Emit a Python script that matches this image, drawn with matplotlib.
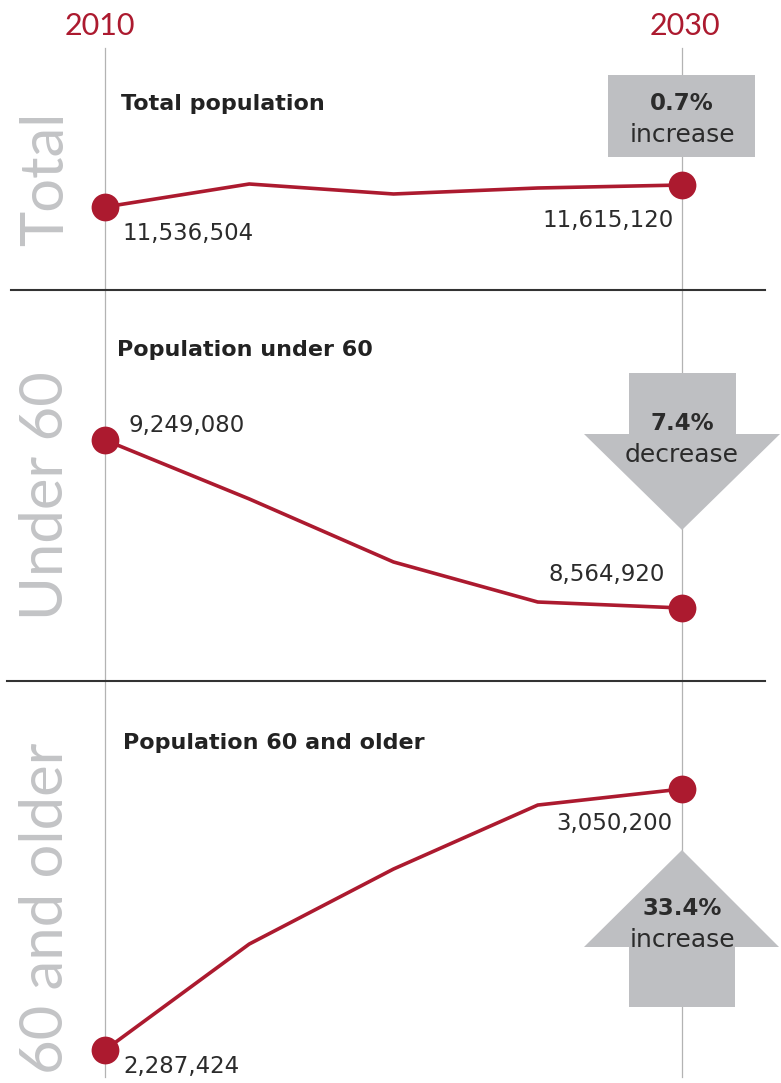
import matplotlib
matplotlib.use("Agg")
import matplotlib.pyplot as plt
from matplotlib.patches import Polygon, Rectangle

plt.rcParams['font.family'] = ['Lato', 'DejaVu Sans']
WIDE = ['DejaVu Sans']

# ---------------- data ----------------
years = [2010, 2015, 2020, 2025, 2030]
total_pop = [11536504, 11618700, 11583000, 11604400, 11615120]
under60_pop = [9249080, 9009000, 8752300, 8589300, 8564920]
older60_pop = [2287424, 2597100, 2816300, 3003300, 3050200]

panel_names = ["Total", "Under 60", "60 and older"]
panel_titles = ["Total population", "Population under 60", "Population 60 and older"]
change_pct = ["0.7%", "7.4%", "33.4%"]
change_words = ["increase", "decrease", "increase"]
year_labels = ["2010", "2030"]

# ---------------- style ----------------
RED = '#AC1A2F'
GRAYBOX = '#BEBFC2'
BIGGRAY = '#C3C4C6'
VLINE = '#B3B3B3'
DARK = '#2B2B2B'
W, H = 781, 1083

fig = plt.figure(figsize=(W / 100, H / 100), dpi=100)
bg = fig.add_axes([0, 0, 1, 1])
bg.set_xlim(0, W)
bg.set_ylim(H, 0)
bg.axis('off')

X0, X1 = 105, 682  # pixel x of 2010 and 2030

# vertical guide lines
for x in (X0, X1):
    bg.plot([x, x], [48, 1077], color=VLINE, lw=0.9, zorder=1)

# separators
bg.plot([11, 765], [290, 290], color='#333333', lw=1.5, zorder=1)
bg.plot([7, 765], [681, 681], color='#333333', lw=1.5, zorder=1)

# year labels
bg.text(100, 35, year_labels[0], color=RED, fontsize=22, ha='center', va='baseline')
bg.text(685, 35, year_labels[1], color=RED, fontsize=22, ha='center', va='baseline')

# big rotated panel names
for name, cy in zip(panel_names, [179, 496, 908]):
    bg.text(63, cy, name, rotation=90, rotation_mode='anchor', ha='center', va='baseline',
            color=BIGGRAY, fontsize=43, fontweight='normal')

# panel titles
for t, (x, y) in zip(panel_titles, [(121, 110), (117, 356), (123, 749)]):
    bg.text(x, y, t, fontsize=16, fontweight='bold', color='#222222', ha='left',
            va='baseline', family=WIDE)

# change indicators
bg.add_patch(Rectangle((608, 75), 147, 82, facecolor=GRAYBOX, edgecolor='none', zorder=2))
bg.add_patch(Polygon([(629, 373), (736, 373), (736, 434), (780, 434), (682, 530),
                      (584, 434), (629, 434)], closed=True, facecolor=GRAYBOX,
                     edgecolor='none', zorder=2))
bg.add_patch(Polygon([(682, 850), (779, 947), (735, 947), (735, 1007), (629, 1007),
                      (629, 947), (584, 947)], closed=True, facecolor=GRAYBOX,
                     edgecolor='none', zorder=2))
for pct, word, (yp, yw) in zip(change_pct, change_words, [(110, 142), (430, 462), (915, 947)]):
    bg.text(682, yp, pct, fontsize=16.5, fontweight='bold', color=DARK, ha='center',
            va='baseline', zorder=3, family=WIDE)
    bg.text(682, yw, word, fontsize=18, color=DARK, ha='center', va='baseline', zorder=3,
            family=WIDE)


# ---------------- data panels ----------------
def panel_axes(top_px, bot_px, v_first, y_first, v_last, y_last):
    ax = fig.add_axes([X0 / W, 1 - bot_px / H, (X1 - X0) / W, (bot_px - top_px) / H])
    per_px = (v_last - v_first) / (y_first - y_last)

    def v(y):
        return v_first + (y_first - y) * per_px

    ax.set_xlim(years[0], years[-1])
    ax.set_ylim(v(bot_px), v(top_px))
    ax.axis('off')
    ax.patch.set_alpha(0)
    return ax


series = [total_pop, under60_pop, older60_pop]
boxes = [(60, 285, 207, 185), (295, 675, 440, 608), (690, 1080, 1050, 789)]
# label offsets in pixels for first and last points
first_off = [(17, -33), (24, 8), (18, -23)]
last_off = [(-8, -42), (-17, 27), (-10, -41)]

for vals, (top, bot, yf, yl), fo, lo in zip(series, boxes, first_off, last_off):
    ax = panel_axes(top, bot, vals[0], yf, vals[-1], yl)
    ax.plot(years, vals, color=RED, lw=2.6, solid_joinstyle='miter', zorder=3, clip_on=False)
    ax.plot([years[0], years[-1]], [vals[0], vals[-1]], 'o', color=RED, ms=20,
            mec='none', zorder=4, clip_on=False)
    ax.annotate(f"{vals[0]:,}", (years[0], vals[0]), xytext=fo, textcoords='offset pixels',
                ha='left', va='baseline', fontsize=16.5, color=DARK, annotation_clip=False,
                family=WIDE)
    ax.annotate(f"{vals[-1]:,}", (years[-1], vals[-1]), xytext=lo, textcoords='offset pixels',
                ha='right', va='baseline', fontsize=16.5, color=DARK, annotation_clip=False,
                family=WIDE)

fig.savefig("out.png", dpi=100)
